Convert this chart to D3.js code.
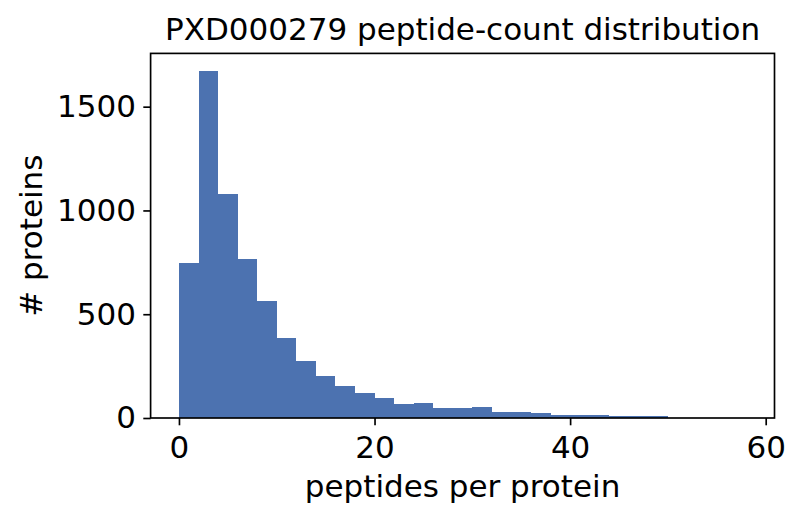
<!DOCTYPE html>
<html>
<head>
<meta charset="utf-8">
<script src="https://cdn.jsdelivr.net/npm/d3@7"></script>
<style>
  body { margin: 0; background: #fff; }
  text { font-family: "DejaVu Sans", sans-serif; fill: #000; }
</style>
</head>
<body>
<div id="chart"></div>
<script>
// histogram bins: left edge of each bin (peptides per protein) and protein counts
const binStarts = [0, 2, 4, 6, 8, 10, 12, 14, 16, 18, 20, 22, 24, 26, 28,
  30, 32, 34, 36, 38, 40, 42, 44, 46, 48, 50, 52, 54, 56];
const binWidth = 2;
const counts = [747, 1673, 1077, 764, 562, 385, 274, 202, 154, 121, 96, 68, 73, 49, 47,
  53, 30, 28, 24, 15, 14, 13, 10, 9, 9, 2, 1, 1, 1];
const xTicks = [0, 20, 40, 60];
const yTicks = [0, 500, 1000, 1500];

const titleText = 'PXD000279 peptide-count distribution';
const xLabel = 'peptides per protein';
const yLabel = '# proteins';

const W = 801, H = 520;
const margin = { top: 53.4, right: 26.5, bottom: 102, left: 150.6 };
const width = W - margin.left - margin.right;
const height = H - margin.top - margin.bottom;
const fontSize = 31;

const bins = binStarts.map((x0, i) => ({ x0: x0, x1: x0 + binWidth, n: counts[i] }));

const svg = d3.select('#chart').append('svg')
  .attr('width', W)
  .attr('height', H);

const g = svg.append('g')
  .attr('transform', 'translate(' + margin.left + ',' + margin.top + ')');

// matplotlib style 5% padding on x, top-only on y
const xMin = d3.min(bins, d => d.x0), xMax = d3.max(bins, d => d.x1);
const pad = (xMax - xMin) * 0.05;
const x = d3.scaleLinear()
  .domain([xMin - pad, xMax + pad])
  .range([0, width]);

const y = d3.scaleLinear()
  .domain([0, d3.max(counts) * 1.05])
  .range([height, 0]);

// bars
g.append('g').selectAll('rect')
  .data(bins)
  .join('rect')
  .attr('x', d => x(d.x0))
  .attr('width', d => x(d.x1) - x(d.x0))
  .attr('y', d => y(d.n))
  .attr('height', d => y(0) - y(d.n))
  .attr('fill', '#4c72b0')
  .attr('shape-rendering', 'crispEdges');

// axes
const xAxis = g.append('g')
  .attr('transform', 'translate(0,' + height + ')')
  .call(d3.axisBottom(x).tickValues(xTicks).tickFormat(d3.format('d'))
    .tickSize(7.3).tickPadding(7.3).tickSizeOuter(0));

const yAxis = g.append('g')
  .call(d3.axisLeft(y).tickValues(yTicks).tickFormat(d3.format('d'))
    .tickSize(7.3).tickPadding(7.3).tickSizeOuter(0));

[xAxis, yAxis].forEach(a => {
  a.select('.domain').remove();
  a.selectAll('line').attr('stroke', '#000').attr('stroke-width', 1.67);
  a.selectAll('text')
    .style('font-family', '"DejaVu Sans", sans-serif')
    .style('font-size', fontSize + 'px')
    .attr('fill', '#000');
});
xAxis.selectAll('text').attr('dy', null).attr('y', 0)
  .attr('transform', 'translate(0,' + (458.3 - margin.top - height) + ')');

// frame
g.append('rect')
  .attr('width', width)
  .attr('height', height)
  .attr('fill', 'none')
  .attr('stroke', '#000')
  .attr('stroke-width', 1.67);

// title and labels
svg.append('text')
  .attr('x', margin.left + width / 2)
  .attr('y', 40)
  .attr('text-anchor', 'middle')
  .style('font-size', fontSize + 'px')
  .text(titleText);

svg.append('text')
  .attr('x', margin.left + width / 2)
  .attr('y', 497)
  .attr('text-anchor', 'middle')
  .style('font-size', fontSize + 'px')
  .text(xLabel);

svg.append('text')
  .attr('transform', 'translate(42,' + (margin.top + height / 2) + ') rotate(-90)')
  .attr('text-anchor', 'middle')
  .style('font-size', fontSize + 'px')
  .text(yLabel);
</script>
</body>
</html>
